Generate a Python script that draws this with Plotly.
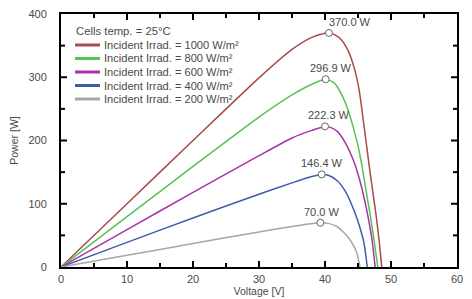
import plotly.graph_objects as go

# ---- data ----
series_names = [
    "Incident Irrad. = 1000 W/m²",
    "Incident Irrad. = 800 W/m²",
    "Incident Irrad. = 600 W/m²",
    "Incident Irrad. = 400 W/m²",
    "Incident Irrad. = 200 W/m²",
]
legend_title = "Cells temp. = 25°C"

v_1000 = [0, 10, 20, 30, 35, 38, 40, 40.6, 41.5, 42.5, 43.5, 44.5, 45.2, 45.7, 46.2, 46.7, 47.2, 47.7, 48.2, 48.6]
p_1000 = [0, 100, 200, 299, 344, 363, 369.5, 370, 367, 359, 342, 312, 278, 240, 200, 160, 122, 85, 42, 0]

v_800 = [0, 10, 20, 30, 35, 38, 40.1, 41.4, 42.6, 43.6, 44.3, 45.0, 45.6, 46.2, 46.8, 47.4, 48.0]
p_800 = [0, 79.5, 159, 237, 272, 289, 296.9, 291, 271, 245, 220, 192, 160, 122, 85, 45, 0]

v_600 = [0, 10, 20, 30, 35, 38, 40.0, 41.0, 41.9, 43.1, 44.4, 45.4, 46.4, 47.1, 47.6]
p_600 = [0, 59, 118, 176, 204, 216, 222.3, 220, 214, 196, 166, 132, 86, 45, 0]

v_400 = [0, 10, 20, 30, 35, 38, 39.5, 40.5, 41.9, 43.0, 43.9, 44.9, 45.9, 46.4]
p_400 = [0, 39, 77.5, 115, 133, 143, 146.4, 145, 136, 121, 102, 75, 38, 0]

v_200 = [0, 10, 20, 30, 35, 37.5, 39.3, 40.5, 41.8, 42.7, 43.5, 44.2, 44.8, 45.3]
p_200 = [0, 18.5, 37, 55.5, 64, 68, 70, 69, 64, 56, 47, 36, 23, 0]

mpp_v = [40.6, 40.1, 40.0, 39.5, 39.3]
mpp_p = [370.0, 296.9, 222.3, 146.4, 70.0]

x_range = [0, 60]
y_range = [0, 400]
x_major_ticks = [0, 10, 20, 30, 40, 50, 60]
x_minor_ticks = [5, 15, 25, 35, 45, 55]
y_major_ticks = [0, 100, 200, 300, 400]
y_minor_ticks = [50, 150, 250, 350]

# ---- styles ----
colors = ["#A64B47", "#55C255", "#A932A9", "#3E5DA8", "#A6A6A6"]
label_xshift = [21, 5, 4, 0, 1]
font_family = "Liberation Sans, Arial, sans-serif"
text_color = "#4a4a4a"

W, H = 472, 299
ml, mr, mt, mb = 61, 15, 14, 32
pw, ph = W - ml - mr, H - mt - mb
major_len, minor_len = 6, 4

volts = [v_1000, v_800, v_600, v_400, v_200]
powers = [p_1000, p_800, p_600, p_400, p_200]

fig = go.Figure()
for name, v, p, c in zip(series_names, volts, powers, colors):
    fig.add_trace(go.Scatter(
        x=v, y=p, mode="lines", name=name,
        line=dict(color=c, width=1.5, shape="spline", smoothing=0.6),
        showlegend=False, hoverinfo="skip",
    ))

fig.add_trace(go.Scatter(
    x=mpp_v, y=mpp_p, mode="markers", showlegend=False, hoverinfo="skip",
    marker=dict(symbol="circle", size=7, color="white",
                line=dict(color="#666666", width=1)),
))

annotations = []
for v, p, xs in zip(mpp_v, mpp_p, label_xshift):
    annotations.append(dict(
        x=v, y=p, xref="x", yref="y", text=f"{p:.1f} W", showarrow=False,
        xshift=xs, yshift=11, font=dict(size=11, color=text_color, family=font_family),
    ))

def px_to_paper_x(px):
    return (px - ml) / pw

def px_to_paper_y(py):
    return (H - mb - py) / ph

shapes = []

# inside tick marks on all four sides, placed at the axis tick values
def add_x_ticks(vals, length):
    d = length / ph
    for v in vals:
        if x_range[0] < v < x_range[1]:
            shapes.append(dict(type="line", xref="x", yref="paper", x0=v, x1=v, y0=0, y1=d,
                               line=dict(color="black", width=2)))
            shapes.append(dict(type="line", xref="x", yref="paper", x0=v, x1=v, y0=1, y1=1 - d,
                               line=dict(color="black", width=2)))

def add_y_ticks(vals, length):
    d = length / pw
    for v in vals:
        if y_range[0] < v < y_range[1]:
            shapes.append(dict(type="line", xref="paper", yref="y", x0=0, x1=d, y0=v, y1=v,
                               line=dict(color="black", width=2)))
            shapes.append(dict(type="line", xref="paper", yref="y", x0=1, x1=1 - d, y0=v, y1=v,
                               line=dict(color="black", width=2)))

add_x_ticks(x_major_ticks, major_len)
add_x_ticks(x_minor_ticks, minor_len)
add_y_ticks(y_major_ticks, major_len)
add_y_ticks(y_minor_ticks, minor_len)

# compact legend
annotations.append(dict(
    x=px_to_paper_x(74), y=px_to_paper_y(31), xref="paper", yref="paper",
    text=legend_title, showarrow=False, xanchor="left", yanchor="middle",
    font=dict(size=11.3, color=text_color, family=font_family),
))
for i, (name, c) in enumerate(zip(series_names, colors)):
    ypx = 45 + i * 13.5
    shapes.append(dict(
        type="line", xref="paper", yref="paper",
        x0=px_to_paper_x(75), x1=px_to_paper_x(100),
        y0=px_to_paper_y(ypx), y1=px_to_paper_y(ypx),
        line=dict(color=c, width=3),
    ))
    annotations.append(dict(
        x=px_to_paper_x(102), y=px_to_paper_y(ypx), xref="paper", yref="paper",
        text=name, showarrow=False, xanchor="left", yanchor="middle",
        font=dict(size=11.1, color=text_color, family=font_family),
    ))

axis_common = dict(
    showgrid=False, zeroline=False, showline=True, linecolor="black", linewidth=2,
    mirror=True, ticks="",
    tickfont=dict(size=11, color=text_color, family=font_family),
    automargin=False,
)

fig.update_layout(
    width=W, height=H,
    margin=dict(l=ml, r=mr, t=mt, b=mb),
    paper_bgcolor="white", plot_bgcolor="white",
    font=dict(family=font_family, color=text_color),
    xaxis=dict(range=x_range, tickvals=x_major_ticks,
               title=dict(text="Voltage [V]", font=dict(size=10.5, color=text_color), standoff=2),
               ticklabelstandoff=1,
               **axis_common),
    yaxis=dict(range=y_range, tickvals=y_major_ticks,
               title=dict(text="Power [W]", font=dict(size=10.5, color=text_color), standoff=8),
               ticklabelstandoff=10,
               **axis_common),
    annotations=annotations,
    shapes=shapes,
)

fig.write_html("out.html", config={"displayModeBar": False},
               post_script="document.body.style.margin='0';document.body.style.padding='0';")
